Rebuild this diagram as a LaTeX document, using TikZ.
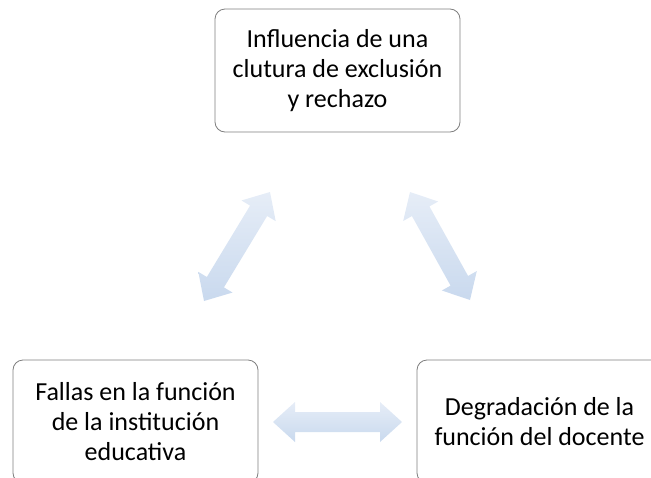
\documentclass[tikz,border=0pt]{standalone}
\usepackage{fontspec}
\setmainfont{Carlito}
\usepackage{tikz}
\usetikzlibrary{calc, positioning}
\definecolor{boxline}{HTML}{7F7F7F}
\definecolor{arrowtop}{HTML}{E6EDF7}
\definecolor{arrowbot}{HTML}{C9D9EE}

% block arrow with a head at each end, from #1 to #2
\newcommand{\blockarrow}[2]{%
  \shade[top color=arrowtop, bottom color=arrowbot]
    (#1)
    -- ($(#1)!22pt!(#2)!20pt!90:(#2)$)
    -- ($(#1)!22pt!(#2)!10pt!90:(#2)$)
    -- ($(#2)!22pt!(#1)!10pt!-90:(#1)$)
    -- ($(#2)!22pt!(#1)!20pt!-90:(#1)$)
    -- (#2)
    -- ($(#2)!22pt!(#1)!20pt!90:(#1)$)
    -- ($(#2)!22pt!(#1)!10pt!90:(#1)$)
    -- ($(#1)!22pt!(#2)!10pt!-90:(#2)$)
    -- ($(#1)!22pt!(#2)!20pt!-90:(#2)$)
    -- cycle;}

\begin{document}
\begin{tikzpicture}[
    x=1pt, y=-1pt,
    cause/.style={rectangle, rounded corners=10pt, draw=boxline, line width=0.8pt, fill=white,
      minimum width=245pt, minimum height=123pt, align=center,
      font=\fontsize{26}{30}\selectfont}
]
\useasboundingbox (0,0) rectangle (651,477);
\clip (0,0) rectangle (651,477);

% Causes
\node[cause] (culture) at (337.5,70.5) {Influencia de una\\clutura de exclusión\\y rechazo};
\node[cause] (school) at (135.5,421.5) {Fallas en la función\\de la institución\\educativa};
\node[cause] (teacher) at (539.5,421.5) {Degradación de la\\función del docente};

% Arrow ends
\coordinate (cl) at (270,192);
\coordinate (sl) at (204,301);
\coordinate (cr) at (410,192);
\coordinate (tr) at (470,300);
\coordinate (sh) at (273,422);
\coordinate (th) at (402,422);

% Links
\blockarrow{cl}{sl}
\blockarrow{cr}{tr}
\blockarrow{sh}{th}

\end{tikzpicture}
\end{document}
